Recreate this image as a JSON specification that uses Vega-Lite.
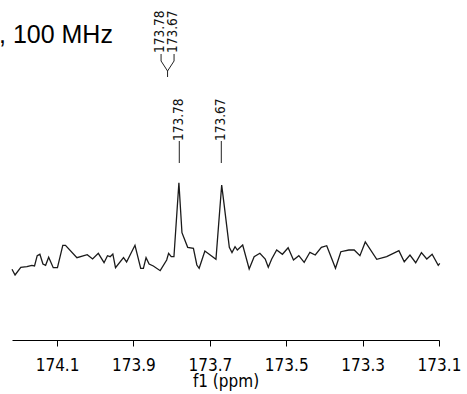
{
  "$schema": "https://vega.github.io/schema/vega-lite/v6.json",
  "width": 427,
  "height": 340,
  "autosize": {"type": "none"},
  "padding": {"left": 12, "top": 0, "right": 28, "bottom": 54},
  "background": "white",
  "title": {
    "text": ", 100 MHz",
    "anchor": "start",
    "frame": "group",
    "font": "Liberation Sans",
    "fontSize": 25,
    "fontWeight": "normal",
    "color": "#000",
    "baseline": "alphabetic",
    "offset": 0,
    "dx": -13,
    "dy": 68
  },
  "config": {"view": {"stroke": null}},
  "datasets": {
    "spec": [
      {"ppm": 174.218, "i": 70.7}, {"ppm": 174.210, "i": 65}, {"ppm": 174.195, "i": 72.7},
      {"ppm": 174.179, "i": 73.3}, {"ppm": 174.166, "i": 74.7}, {"ppm": 174.159, "i": 74},
      {"ppm": 174.152, "i": 84.3}, {"ppm": 174.145, "i": 85.7}, {"ppm": 174.137, "i": 76},
      {"ppm": 174.130, "i": 74.7}, {"ppm": 174.122, "i": 82.7}, {"ppm": 174.110, "i": 72.3},
      {"ppm": 174.099, "i": 72.3}, {"ppm": 174.085, "i": 94.7}, {"ppm": 174.078, "i": 94.7},
      {"ppm": 174.048, "i": 82.3}, {"ppm": 174.021, "i": 85.3}, {"ppm": 174.007, "i": 81},
      {"ppm": 173.992, "i": 86.7}, {"ppm": 173.977, "i": 77.3}, {"ppm": 173.968, "i": 84.3},
      {"ppm": 173.961, "i": 83.3}, {"ppm": 173.954, "i": 86}, {"ppm": 173.947, "i": 72.3},
      {"ppm": 173.926, "i": 82.3}, {"ppm": 173.918, "i": 78}, {"ppm": 173.896, "i": 94.7},
      {"ppm": 173.881, "i": 71.7}, {"ppm": 173.874, "i": 71.7}, {"ppm": 173.867, "i": 82.3},
      {"ppm": 173.859, "i": 76}, {"ppm": 173.848, "i": 74}, {"ppm": 173.830, "i": 69.3},
      {"ppm": 173.813, "i": 80}, {"ppm": 173.808, "i": 86.7}, {"ppm": 173.801, "i": 83.3},
      {"ppm": 173.794, "i": 83.3}, {"ppm": 173.781, "i": 157.3}, {"ppm": 173.773, "i": 107.3},
      {"ppm": 173.758, "i": 92.7}, {"ppm": 173.743, "i": 91.7}, {"ppm": 173.734, "i": 75},
      {"ppm": 173.728, "i": 71.7}, {"ppm": 173.713, "i": 89}, {"ppm": 173.699, "i": 85},
      {"ppm": 173.684, "i": 80.7}, {"ppm": 173.669, "i": 155}, {"ppm": 173.663, "i": 136.7},
      {"ppm": 173.649, "i": 92.7}, {"ppm": 173.642, "i": 87.5}, {"ppm": 173.634, "i": 93.3},
      {"ppm": 173.628, "i": 90}, {"ppm": 173.614, "i": 95}, {"ppm": 173.597, "i": 71},
      {"ppm": 173.584, "i": 83.3}, {"ppm": 173.569, "i": 86.7}, {"ppm": 173.555, "i": 81},
      {"ppm": 173.547, "i": 72.7}, {"ppm": 173.538, "i": 81}, {"ppm": 173.525, "i": 90},
      {"ppm": 173.510, "i": 85.7}, {"ppm": 173.495, "i": 92.3}, {"ppm": 173.481, "i": 80},
      {"ppm": 173.467, "i": 84.3}, {"ppm": 173.453, "i": 77.7}, {"ppm": 173.438, "i": 87.7},
      {"ppm": 173.424, "i": 85}, {"ppm": 173.408, "i": 92.7}, {"ppm": 173.394, "i": 94.3},
      {"ppm": 173.371, "i": 71.7}, {"ppm": 173.357, "i": 88.3}, {"ppm": 173.336, "i": 90},
      {"ppm": 173.322, "i": 90}, {"ppm": 173.307, "i": 84.3}, {"ppm": 173.293, "i": 98},
      {"ppm": 173.263, "i": 80.7}, {"ppm": 173.237, "i": 83.3}, {"ppm": 173.205, "i": 89.3},
      {"ppm": 173.191, "i": 78.3}, {"ppm": 173.176, "i": 85}, {"ppm": 173.161, "i": 77.3},
      {"ppm": 173.146, "i": 87.3}, {"ppm": 173.132, "i": 81}, {"ppm": 173.118, "i": 85.7},
      {"ppm": 173.102, "i": 74.7}, {"ppm": 173.098, "i": 76.7}
    ],
    "peaks": [
      {"ppm": 173.78, "i": 199, "i2": 177, "label": "173.78"},
      {"ppm": 173.67, "i": 199, "i2": 177, "label": "173.67"}
    ],
    "top": [
      {"ppm": 173.8304, "i": 287, "label": "173.78"},
      {"ppm": 173.7976, "i": 287, "label": "173.67"}
    ],
    "bracket": [
      {"seg": "a", "ord": 1, "ppm": 173.8277, "i": 286},
      {"seg": "a", "ord": 2, "ppm": 173.8277, "i": 279},
      {"seg": "a", "ord": 3, "ppm": 173.8107, "i": 269},
      {"seg": "a", "ord": 4, "ppm": 173.8107, "i": 263},
      {"seg": "b", "ord": 1, "ppm": 173.7937, "i": 286},
      {"seg": "b", "ord": 2, "ppm": 173.7937, "i": 279},
      {"seg": "b", "ord": 3, "ppm": 173.8107, "i": 269}
    ]
  },
  "layer": [
    {
      "data": {"name": "spec"},
      "mark": {"type": "line", "color": "#1a1a1a", "strokeWidth": 1.3, "clip": false},
      "encoding": {
        "x": {
          "field": "ppm",
          "type": "quantitative",
          "scale": {"domain": [173.1, 174.218], "reverse": true, "nice": false, "zero": false},
          "axis": {
            "title": "f1 (ppm)",
            "values": [174.2, 174.15, 174.1, 174.05, 174.0, 173.95, 173.9, 173.85, 173.8, 173.75, 173.7, 173.65, 173.6, 173.55, 173.5, 173.45, 173.4, 173.35, 173.3, 173.25, 173.2, 173.15, 173.1],
            "labelExpr": "abs(datum.value*10 - round(datum.value*10)) < 0.01 && round(datum.value*10) % 2 == 1 ? format(datum.value, '.1f') : ''",
            "grid": false,
            "tickSize": 6,
            "tickColor": "#000",
            "tickWidth": 1,
            "domainColor": "#000",
            "domainWidth": 1,
            "labelFont": "DejaVu Sans Condensed",
            "labelFontSize": 17,
            "labelColor": "#000",
            "labelPadding": 11,
            "labelOverlap": false,
            "labelFlush": false,
            "labelBound": false,
            "titleFont": "DejaVu Sans Condensed",
            "titleFontSize": 17,
            "titleFontWeight": "normal",
            "titleColor": "#000",
            "titlePadding": 0
          }
        },
        "y": {
          "field": "i",
          "type": "quantitative",
          "scale": {"domain": [0, 340], "nice": false, "zero": false},
          "axis": null
        }
      }
    },
    {
      "data": {"name": "peaks"},
      "mark": {"type": "rule", "color": "#222", "strokeWidth": 1},
      "encoding": {
        "x": {"field": "ppm", "type": "quantitative"},
        "y": {"field": "i", "type": "quantitative"},
        "y2": {"field": "i2"}
      }
    },
    {
      "data": {"name": "peaks"},
      "mark": {"type": "text", "angle": 270, "align": "left", "baseline": "middle", "font": "DejaVu Sans Condensed", "fontSize": 13.5, "color": "#111"},
      "encoding": {
        "x": {"field": "ppm", "type": "quantitative"},
        "y": {"field": "i", "type": "quantitative"},
        "text": {"field": "label"}
      }
    },
    {
      "data": {"name": "top"},
      "mark": {"type": "text", "angle": 270, "align": "left", "baseline": "middle", "font": "DejaVu Sans Condensed", "fontSize": 13.5, "color": "#111"},
      "encoding": {
        "x": {"field": "ppm", "type": "quantitative"},
        "y": {"field": "i", "type": "quantitative"},
        "text": {"field": "label"}
      }
    },
    {
      "data": {"name": "bracket"},
      "mark": {"type": "line", "color": "#222", "strokeWidth": 1},
      "encoding": {
        "x": {"field": "ppm", "type": "quantitative"},
        "y": {"field": "i", "type": "quantitative"},
        "detail": {"field": "seg"},
        "order": {"field": "ord", "type": "quantitative"}
      }
    }
  ]
}
